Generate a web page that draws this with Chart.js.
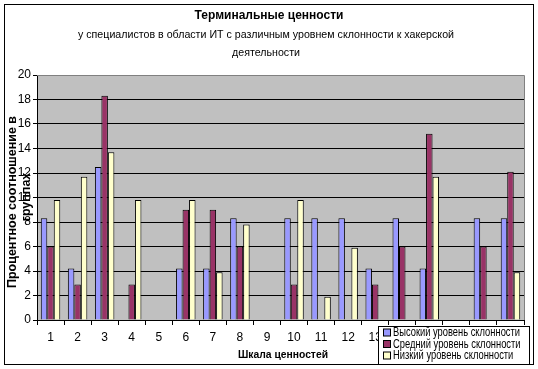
<!DOCTYPE html>
<html><head><meta charset="utf-8">
<script src="https://cdn.jsdelivr.net/npm/chart.js@4.4.0/dist/chart.umd.min.js"></script>
<style>html,body{margin:0;padding:0;background:#fff}#wrap{width:538px;height:369px}</style>
</head><body><div id="wrap"><canvas id="c" width="538" height="369"></canvas></div>
<script>
const categories = ['1','2','3','4','5','6','7','8','9','10','11','12','13','14','15','16','17','18'];
const highValues = [8.3,4.2,12.5,0,0,4.2,4.2,8.3,0,8.3,8.3,8.3,4.2,8.3,4.2,0,8.3,8.3];
const midValues  = [6.0,2.9,18.3,2.9,0,9.0,9.0,6.0,0,2.9,0,0,2.9,6.0,15.2,0,6.0,12.1];
const lowValues  = [9.8,11.7,13.7,9.8,0,9.8,3.9,7.8,0,9.8,1.9,5.9,0,0,11.7,0,0,3.9];
const seriesNames = ['Высокий уровень склонности','Средний уровень склонности','Низкий уровень склонности'];
const yTicks = [0,2,4,6,8,10,12,14,16,18,20];
const titleText = 'Терминальные ценности';
const subtitleLines = ['у специалистов в области ИТ с различным уровнем склонности к хакерской','деятельности'];
const yTitleLines = ['Процентное соотношение в','группах'];
const xTitle = 'Шкала ценностей';
const colors = ['#9999FF','#993366','#FFFFCC'];
const FONT = '"Liberation Sans", Arial, sans-serif';

function squeezed(ctx, text, x, y, sx){
  ctx.save(); ctx.translate(x,y); ctx.scale(sx,1); ctx.fillText(text,0,0); ctx.restore();
}

const decor = {
  id:'decor',
  beforeDraw(chart){
    const {ctx, chartArea:a} = chart;
    ctx.save();
    ctx.fillStyle='#fff'; ctx.fillRect(0,0,chart.width,chart.height);
    ctx.fillStyle='#C0C0C0'; ctx.fillRect(a.left,a.top,a.right-a.left,a.bottom-a.top);
    ctx.restore();
  },
  afterDraw(chart){
    const {ctx, chartArea:a} = chart;
    ctx.save();
    ctx.strokeStyle='#808080'; ctx.lineWidth=1;
    ctx.beginPath(); ctx.moveTo(a.left,a.top+0.5); ctx.lineTo(a.right+0.5,a.top+0.5); ctx.lineTo(a.right+0.5,a.bottom); ctx.stroke();
    ctx.strokeStyle='#000'; ctx.strokeRect(4.5,4.5,529,360);
    ctx.fillStyle='#000'; ctx.textAlign='center'; ctx.textBaseline='middle';
    ctx.font='bold 12px '+FONT; ctx.fillText(titleText,269,16);
    ctx.font='11.5px '+FONT;
    let s = 376/ctx.measureText(subtitleLines[0]).width;
    squeezed(ctx,subtitleLines[0],266,35,s);
    squeezed(ctx,subtitleLines[1],266,53,s);
    ctx.font='bold 11.5px '+FONT; squeezed(ctx,xTitle,283,355,90/ctx.measureText(xTitle).width);
    ctx.save(); ctx.translate(13,202); ctx.rotate(-Math.PI/2);
    ctx.font='bold 12.5px '+FONT;
    ctx.fillText(yTitleLines[0],0,0);
    ctx.fillText(yTitleLines[1],5,14);
    ctx.restore();
    // legend
    const lx=378, ly=326, lw=151, lh=38;
    ctx.fillStyle='#fff'; ctx.fillRect(lx,ly,lw,lh);
    ctx.strokeStyle='#000'; ctx.strokeRect(lx+0.5,ly+0.5,lw,lh);
    ctx.font='12px '+FONT; ctx.textAlign='left';
    const sx = 127/ctx.measureText(chart.data.datasets[0].label).width;
    chart.data.datasets.forEach((ds,i)=>{
      const cy = ly+6.5+i*11.5;
      ctx.fillStyle=ds.backgroundColor; ctx.fillRect(lx+6,cy-3.5,7,7);
      ctx.strokeStyle='#000'; ctx.strokeRect(lx+5.5,cy-3.5,7,7);
      ctx.fillStyle='#000'; squeezed(ctx,ds.label,lx+15,cy+0.5,sx);
    });
    ctx.restore();
  }
};

new Chart(document.getElementById('c'),{
  type:'bar',
  data:{labels:categories,datasets:[
    {label:seriesNames[0],data:highValues,backgroundColor:colors[0]},
    {label:seriesNames[1],data:midValues,backgroundColor:colors[1]},
    {label:seriesNames[2],data:lowValues,backgroundColor:colors[2]}
  ].map(d=>Object.assign(d,{borderColor:'#000',borderWidth:1,borderSkipped:'bottom',categoryPercentage:0.72,barPercentage:1.0}))},
  options:{
    responsive:false,animation:false,devicePixelRatio:1,
    layout:{padding:{left:7,top:75,right:14,bottom:27}},
    plugins:{legend:{display:false},title:{display:false},tooltip:{enabled:false}},
    scales:{
      x:{
        grid:{display:true,drawOnChartArea:false,drawTicks:true,tickLength:5,color:'#000',offset:true},
        border:{display:true,color:'#000'},
        ticks:{color:'#000',font:{family:FONT,size:12},padding:5,maxRotation:0,autoSkip:false},
        afterFit(s){s.height=22;}
      },
      y:{
        min:0,max:20,
        afterBuildTicks(s){s.ticks=yTicks.map(v=>({value:v}));},
        grid:{color:'#000',tickLength:4,drawTicks:true},
        border:{display:true,color:'#000'},
        ticks:{color:'#000',font:{family:FONT,size:12},padding:2},
        afterFit(s){s.width=30;}
      }
    }
  },
  plugins:[decor]
});
</script></body></html>
